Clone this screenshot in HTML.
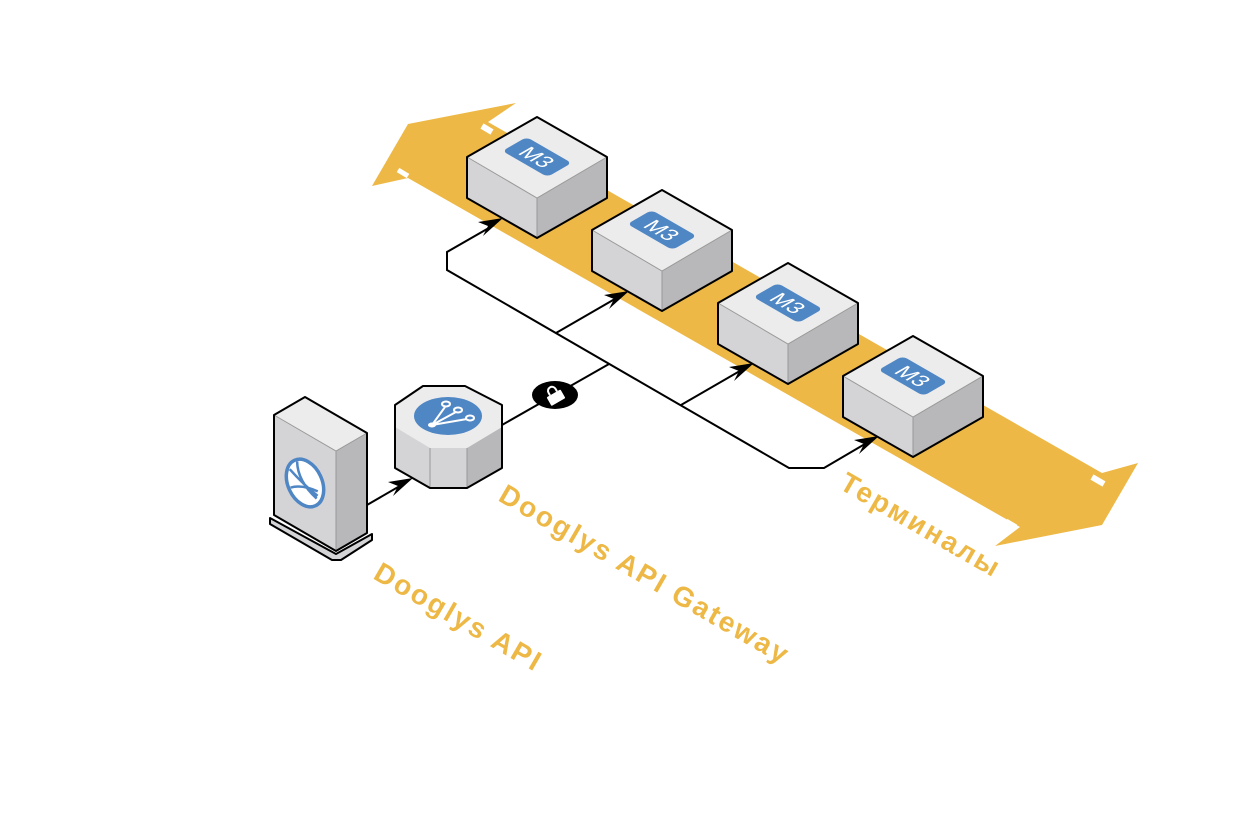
<!DOCTYPE html>
<html><head><meta charset="utf-8"><style>html,body{margin:0;padding:0;background:#fff}svg{display:block}</style></head>
<body>
<svg width="1260" height="836" viewBox="0 0 1260 836" xmlns="http://www.w3.org/2000/svg">
<defs>
<g id="blk">
  <polygon points="0,0 70,40 0,81 -70,40" fill="#ececec"/>
  <polygon points="-70,40 0,81 0,121 -70,81" fill="#d4d4d6"/>
  <polygon points="0,81 70,40 70,81 0,121" fill="#b8b8ba"/>
  <polyline points="-70,40 0,81 70,40" fill="none" stroke="#999" stroke-width="1"/>
  <line x1="0" y1="81" x2="0" y2="121" stroke="#999"/>
  <polygon points="0,0 70,40 70,81 0,121 -70,81 -70,40" fill="none" stroke="#000" stroke-width="2" stroke-linejoin="round"/>
  <g transform="translate(0,40) matrix(0.866,0.5,-0.866,0.5,0,0)">
    <rect x="-26" y="-14" width="52" height="28" rx="5" fill="#4f86c4"/>
    <text x="0" y="8" text-anchor="middle" font-family="Liberation Sans, sans-serif" font-size="22" fill="#fff">M3</text>
  </g>
</g>
</defs>

<polygon points="372,186 408,124 516,103 488,122 1102,473 1138,463 1102,525 995,546 1020,527 408,178" fill="#edb845"/>
<line x1="482" y1="126" x2="492" y2="132" stroke="#fff" stroke-width="6"/>
<line x1="1092" y1="477" x2="1104" y2="484" stroke="#fff" stroke-width="6"/>
<line x1="398" y1="170" x2="408" y2="176" stroke="#fff" stroke-width="5"/>
<line x1="1006" y1="521" x2="1016" y2="527" stroke="#fff" stroke-width="5"/>

<g fill="none" stroke="#000" stroke-width="2">
  <polyline points="494,225 447,252 447,270 789,468 824,468 870,441"/>
  <line x1="556" y1="333" x2="620" y2="296"/>
  <line x1="681" y1="405" x2="745" y2="368"/>
  <line x1="502" y1="425" x2="609" y2="364"/>
  <line x1="367" y1="505" x2="405" y2="483"/>
</g>
<g fill="#000">
  <polygon points="503,218 483,236 488,226 478,222"/>
  <polygon points="629,291 609,309 614,299 604,295"/>
  <polygon points="754,363 734,381 739,371 729,367"/>
  <polygon points="879,436 859,454 864,444 854,440"/>
  <polygon points="413,478 393,496 398,486 388,482"/>
</g>
<ellipse cx="555" cy="395" rx="23" ry="14" fill="#000"/>
<g transform="translate(555,396) rotate(-30)">
  <rect x="-8" y="-3" width="16" height="10" fill="#fff" rx="1"/>
  <path d="M-4,-3 v-3 a4,4 0 0 1 8,0 v3" fill="none" stroke="#fff" stroke-width="2"/>
</g>

<use href="#blk" x="537" y="117"/>
<use href="#blk" x="662" y="190"/>
<use href="#blk" x="788" y="263"/>
<use href="#blk" x="913" y="336"/>

<polygon points="270,518 336,554 372,534 372,540 341,560 332,560 270,524" fill="#d4d4d6" stroke="#000" stroke-width="2" stroke-linejoin="round"/>
<polygon points="274,415 305,397 367,433 336,451" fill="#ececec"/>
<polygon points="274,415 336,451 336,551 274,515" fill="#d4d4d6"/>
<polygon points="336,451 367,433 367,533 336,551" fill="#b8b8ba"/>
<polyline points="274,415 336,451 367,433" fill="none" stroke="#999"/>
<line x1="336" y1="451" x2="336" y2="551" stroke="#999"/>
<polygon points="274,415 305,397 367,433 367,533 336,551 274,515" fill="none" stroke="#000" stroke-width="2" stroke-linejoin="round"/>
<g transform="translate(305,483) rotate(-25)">
  <ellipse rx="17" ry="25" fill="#fff" stroke="#4f86c4" stroke-width="3.5"/>
  <path d="M-8,-19 q6,20 14,36 M-15,-2 q12,2 23,15 M2,-23 q-8,18 2,42" fill="none" stroke="#4f86c4" stroke-width="2.5"/>
</g>

<polygon points="395,427 502,427 502,468 467,488 430,488 395,468" fill="#d4d4d6"/>
<polygon points="467,448 502,427 502,468 467,488" fill="#b8b8ba"/>
<line x1="430" y1="448" x2="430" y2="488" stroke="#999"/>
<line x1="467" y1="448" x2="467" y2="488" stroke="#999"/>
<polygon points="395,405 423,386 465,386 502,405 502,427 467,448 430,448 395,427" fill="#ececec"/>
<polygon points="395,405 423,386 465,386 502,405 502,468 467,488 430,488 395,468" fill="none" stroke="#000" stroke-width="2" stroke-linejoin="round"/>
<ellipse cx="448" cy="416" rx="34" ry="19" fill="#4f86c4"/>
<g stroke="#fff" stroke-width="2" fill="none">
  <path d="M432,425 L445,407 M432,425 L456,412 M432,425 L467,419"/>
  <ellipse cx="446" cy="404" rx="4" ry="2.5"/><ellipse cx="458" cy="410" rx="4" ry="2.5"/><ellipse cx="470" cy="418" rx="4" ry="2.5"/>
</g>
<ellipse cx="432" cy="425" rx="4" ry="2.5" fill="#fff"/>

<g font-family="Liberation Sans, sans-serif" font-weight="bold" font-size="28" fill="#edb845" letter-spacing="2.3">
  <text transform="translate(372,578) rotate(30)">Dooglys API</text>
  <text transform="translate(497,500) rotate(30)">Dooglys API Gateway</text>
  <text transform="translate(838,488) rotate(30)">Терминалы</text>
</g>
</svg>
</body></html>
